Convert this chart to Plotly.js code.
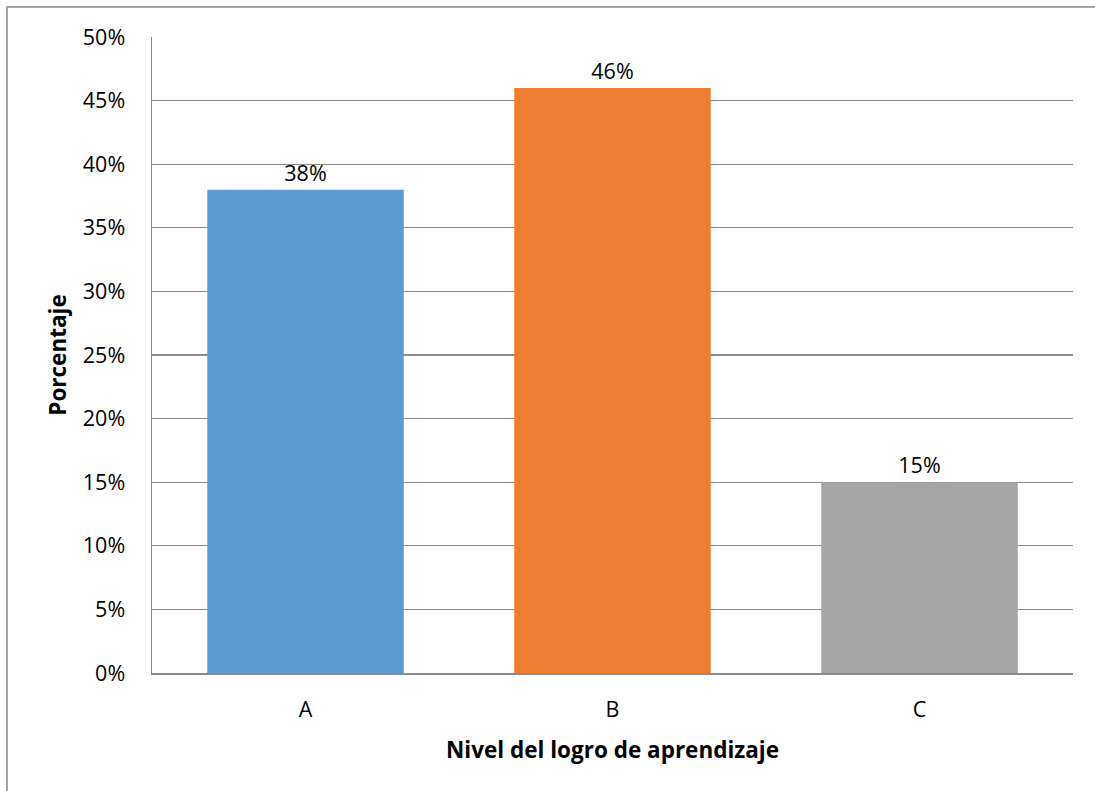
<!DOCTYPE html>
<html>
<head>
<meta charset="utf-8">
<script src="https://cdn.plot.ly/plotly-3.0.1.min.js"></script>
<style>
  html, body { margin: 0; padding: 0; background: #fff; overflow: hidden; }
  #frame { position: absolute; left: 6px; top: 6px; width: 1200px; height: 900px;
           border-left: 2px solid #a6a6a6; border-top: 2px solid #a6a6a6; pointer-events: none; z-index: 5; }
  #chart { position: absolute; left: 0; top: 0; width: 1095px; height: 791px; }
</style>
</head>
<body>
<div id="frame"></div>
<div id="chart"></div>
<script>
const categories = ["A", "B", "C"];
const values = [0.38, 0.46, 0.15];
const labels = ["38%", "46%", "15%"];
const colors = ["#5B9BD5", "#ED7D31", "#A5A5A5"];
const yTickVals = [0, 0.05, 0.10, 0.15, 0.20, 0.25, 0.30, 0.35, 0.40, 0.45, 0.50];
const yTickText = ["0%", "5%", "10%", "15%", "20%", "25%", "30%", "35%", "40%", "45%", "50%"];

const font = "Open Sans, Noto Sans, Liberation Sans, sans-serif";

const trace = {
  type: "bar",
  x: categories,
  y: values,
  width: 0.64,
  marker: { color: colors, line: { width: 0 } },
  text: labels,
  textposition: "outside",
  cliponaxis: false,
  textfont: { family: font, size: 21.5, color: "#000" },
  hoverinfo: "none"
};

const layout = {
  width: 1095,
  height: 791,
  margin: { l: 152, r: 22, t: 37, b: 118 },
  paper_bgcolor: "#fff",
  plot_bgcolor: "#fff",
  showlegend: false,
  font: { family: font, color: "#000" },
  xaxis: {
    type: "category",
    tickfont: { family: font, size: 21.5, color: "#000" },
    showline: true, linecolor: "#8c8c8c", linewidth: 1.5,
    ticks: "", ticklabelstandoff: 17,
    title: { text: "<b>Nivel del logro de aprendizaje</b>", font: { family: font, size: 22.5, color: "#000" }, standoff: 20 }
  },
  yaxis: {
    range: [0, 0.5],
    tickvals: yTickVals,
    ticktext: yTickText,
    tickfont: { family: font, size: 21.5, color: "#000" },
    showgrid: true, gridcolor: "#8c8c8c", gridwidth: 1.3,
    showline: true, linecolor: "#8c8c8c", linewidth: 1.5,
    zeroline: false,
    ticks: "", ticklabelstandoff: 21,
    title: { text: "<b>Porcentaje</b>", font: { family: font, size: 22.5, color: "#000" }, standoff: 10 }
  }
};

Plotly.newPlot("chart", [trace], layout, { displayModeBar: false, staticPlot: true });
</script>
</body>
</html>
